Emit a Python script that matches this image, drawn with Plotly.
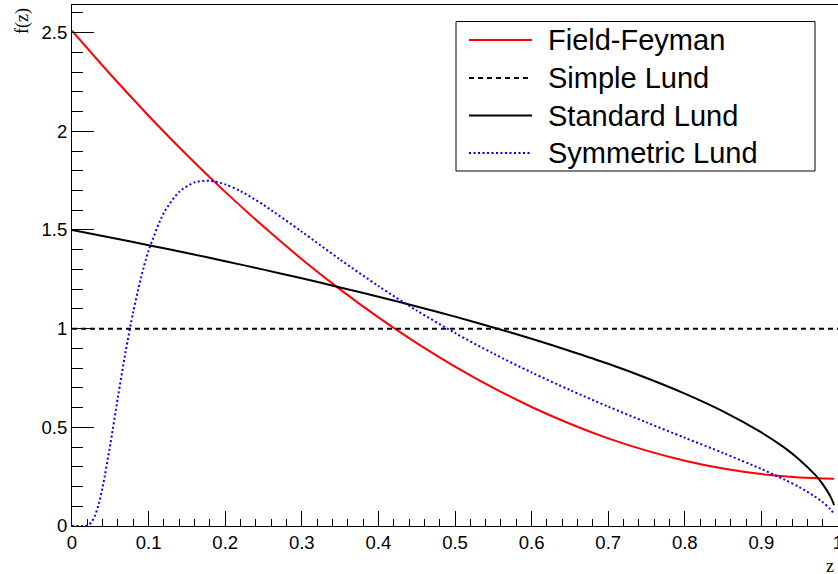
import plotly.graph_objects as go

# Fragmentation functions f(z), sampled on z
z_ff = [0.0, 0.05, 0.1, 0.15, 0.2, 0.25, 0.3, 0.35, 0.4, 0.45, 0.5, 0.55, 0.6,
        0.65, 0.7, 0.75, 0.8, 0.85, 0.9, 0.95, 0.995]
f_ff = [2.51, 2.289, 2.079, 1.880, 1.693, 1.517, 1.352, 1.199, 1.057, 0.927, 0.808,
        0.700, 0.603, 0.518, 0.444, 0.382, 0.331, 0.291, 0.263, 0.246, 0.240]

z_simple = [0.0, 1.0]
f_simple = [1.0, 1.0]

z_std = [0.0, 0.05, 0.1, 0.15, 0.2, 0.25, 0.3, 0.35, 0.4, 0.45, 0.5, 0.55, 0.6,
         0.65, 0.7, 0.75, 0.8, 0.85, 0.9, 0.93, 0.95, 0.97, 0.98, 0.99, 0.995]
f_std = [1.5, 1.462, 1.423, 1.383, 1.342, 1.299, 1.255, 1.209, 1.162, 1.112, 1.061,
         1.006, 0.949, 0.887, 0.822, 0.750, 0.671, 0.581, 0.474, 0.397, 0.335,
         0.260, 0.212, 0.150, 0.106]

z_sym = [0.0, 0.01, 0.015, 0.02, 0.025, 0.03, 0.035, 0.04, 0.05, 0.06, 0.07, 0.08,
         0.09, 0.1, 0.12, 0.14, 0.16, 0.18, 0.2, 0.22, 0.25, 0.3, 0.35, 0.4, 0.45,
         0.5, 0.55, 0.6, 0.65, 0.7, 0.75, 0.8, 0.85, 0.9, 0.93, 0.95, 0.97, 0.98,
         0.99, 0.995]
f_sym = [0.0, 0.0, 0.0, 0.003, 0.017, 0.053, 0.113, 0.197, 0.414, 0.654, 0.884,
         1.086, 1.257, 1.395, 1.587, 1.693, 1.741, 1.749, 1.731, 1.697, 1.627,
         1.491, 1.350, 1.216, 1.092, 0.978, 0.874, 0.778, 0.689, 0.605, 0.525,
         0.447, 0.370, 0.289, 0.235, 0.196, 0.149, 0.121, 0.085, 0.060]

names = ["Field-Feyman", "Simple Lund", "Standard Lund", "Symmetric Lund"]
colors = ["#ff0000", "#000000", "#000000", "#0000ff"]
dashes = ["solid", "5px,4px", "solid", "2px,2.5px"]

x_ticks = [0, 0.1, 0.2, 0.3, 0.4, 0.5, 0.6, 0.7, 0.8, 0.9, 1]
x_ticklabels = ["0", "0.1", "0.2", "0.3", "0.4", "0.5", "0.6", "0.7", "0.8", "0.9", "1"]
y_ticks = [0, 0.5, 1, 1.5, 2, 2.5]
y_ticklabels = ["0", "0.5", "1", "1.5", "2", "2.5"]

series = [(z_ff, f_ff), (z_simple, f_simple), (z_std, f_std), (z_sym, f_sym)]

W, H = 838, 574
ML, MR, MT, MB = 72, 0, 5, 48
PW, PH = W - ML - MR, H - MT - MB

fig = go.Figure()
for (zs, fs), name, col, dash in zip(series, names, colors, dashes):
    fig.add_trace(go.Scatter(
        x=zs, y=fs, mode="lines", name=name, showlegend=False,
        line=dict(color=col, width=2, dash=dash, shape="spline", smoothing=0.8),
    ))

sans = "Liberation Sans, Arial, sans-serif"
serif = "Liberation Serif, Times New Roman, serif"


def px_x(p):
    return (p - ML) / PW


def px_y(p):
    return (H - MB - p) / PH


# Legend box drawn in paper coordinates
shapes = [dict(type="rect", xref="paper", yref="paper",
               x0=px_x(456), x1=px_x(815), y0=px_y(171), y1=px_y(21.5),
               line=dict(color="black", width=1), fillcolor="white", layer="above")]
annotations = []
row_y = [40, 78, 115.5, 153]
for ry, name, col, dash in zip(row_y, names, colors, dashes):
    shapes.append(dict(type="line", xref="paper", yref="paper",
                       x0=px_x(469), x1=px_x(532), y0=px_y(ry), y1=px_y(ry),
                       line=dict(color=col, width=2, dash=dash), layer="above"))
    annotations.append(dict(xref="paper", yref="paper", x=px_x(546), y=px_y(ry),
                            text=name, showarrow=False, xanchor="left", yanchor="middle",
                            font=dict(family=sans, size=29, color="black")))

# Axis titles
annotations.append(dict(xref="paper", yref="paper", x=px_x(22), y=px_y(6),
                        text="f(z)", textangle=-90, showarrow=False,
                        xanchor="center", yanchor="top",
                        font=dict(family=serif, size=18, color="black")))
annotations.append(dict(xref="paper", yref="paper", x=px_x(836), y=px_y(566),
                        text="z", showarrow=False, xanchor="right", yanchor="middle",
                        font=dict(family=serif, size=18, color="black")))

fig.update_layout(
    width=W, height=H,
    margin=dict(l=ML, r=MR, t=MT, b=MB, pad=0, autoexpand=False),
    paper_bgcolor="white", plot_bgcolor="white",
    shapes=shapes, annotations=annotations,
    xaxis=dict(range=[0, 1], tickvals=x_ticks, ticktext=x_ticklabels,
               automargin=False,
               ticks="inside", ticklen=15, tickwidth=1, tickcolor="black",
               minor=dict(dtick=0.02, ticks="inside", ticklen=7.5, tickwidth=1,
                          tickcolor="black", showgrid=False),
               showline=True, linecolor="black", linewidth=1, mirror=True,
               showgrid=False, zeroline=False, ticklabeloverflow="allow",
               tickfont=dict(family=sans, size=18.5, color="black")),
    yaxis=dict(range=[0, 2.64], tickvals=y_ticks, ticktext=y_ticklabels,
               automargin=False,
               ticks="inside", ticklen=22, tickwidth=1, tickcolor="black",
               minor=dict(dtick=0.1, ticks="inside", ticklen=11, tickwidth=1,
                          tickcolor="black", showgrid=False),
               showline=True, linecolor="black", linewidth=1, mirror=True,
               showgrid=False, zeroline=False,
               tickfont=dict(family=sans, size=18.5, color="black")),
)

fig.write_html("out.html")
